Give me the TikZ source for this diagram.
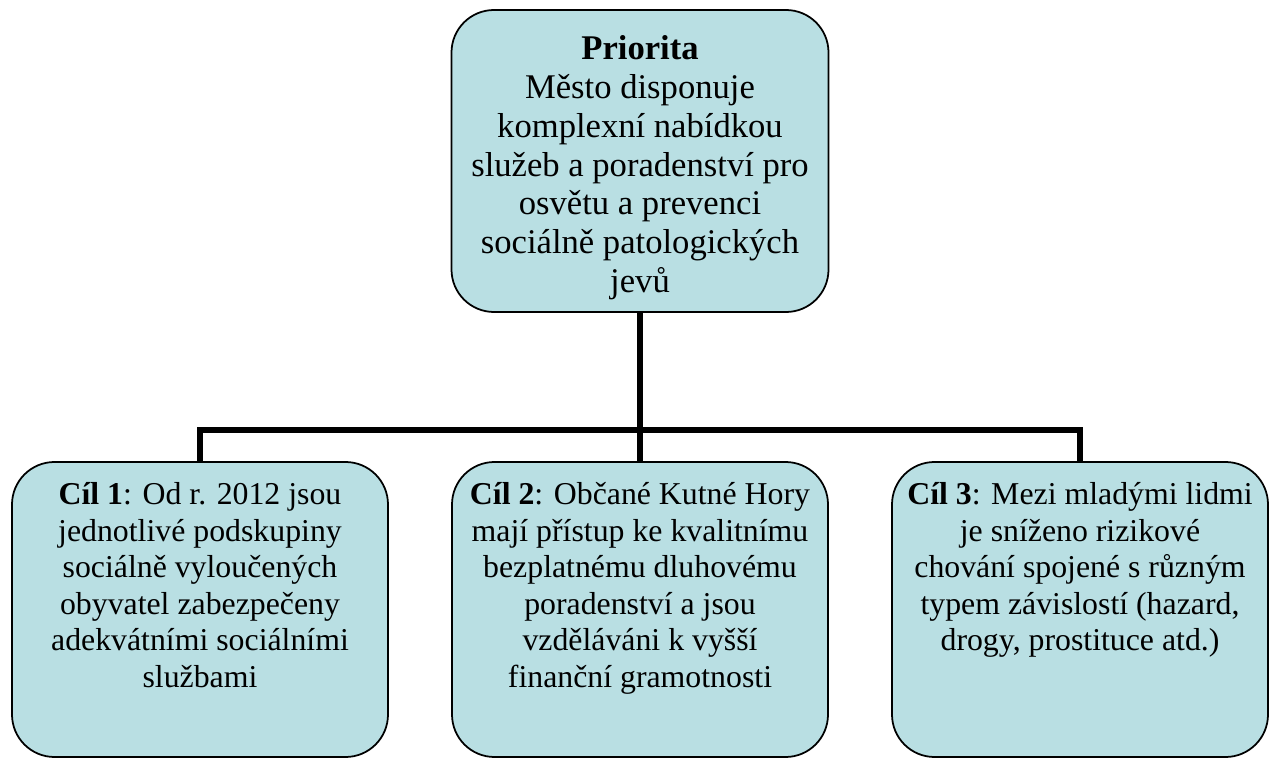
\documentclass[tikz,border=0pt]{standalone}
\usepackage{fontspec}
\setmainfont{Liberation Serif}
\usetikzlibrary{positioning}
\definecolor{boxblue}{RGB}{185,223,227}
\begin{document}
\begin{tikzpicture}[box/.style={draw=black, line width=1pt, fill=boxblue, rounded corners=0.85cm},
                prio/.style={box, minimum width=7.54cm, minimum height=6.04cm},
                goal/.style={box, minimum width=7.52cm, minimum height=5.9cm},
                priotext/.style={align=center, inner sep=0pt, font=\fontsize{19.7}{22.1}\selectfont},
                goaltext/.style={align=center, inner sep=0pt, font=\fontsize{18.1}{20.8}\selectfont},
                link/.style={line width=3.4pt}]
                \useasboundingbox (0,0) rectangle (25.4,-15.16);
                \node[prio] (prio) at (12.8,-3.22) {};
                \node[goal] (g1) at (4.0,-12.19) {};
                \node[goal] (g2) at (12.8,-12.19) {};
                \node[goal] (g3) at (21.6,-12.19) {};
                \node[priotext, below=0.52cm of prio.north] (priot) {\textbf{Priorita}\\Město disponuje\\komplexní nabídkou\\služeb a poradenství pro\\osvětu a prevenci\\sociálně patologických\\jevů};
                \node[goaltext, below=0.42cm of g1.north] (g1t) {\textbf{Cíl 1}: Od r. 2012 jsou\\jednotlivé podskupiny\\sociálně vyloučených\\obyvatel zabezpečeny\\adekvátními sociálními\\službami};
                \node[goaltext, below=0.42cm of g2.north] (g2t) {\textbf{Cíl 2}: Občané Kutné Hory\\mají přístup ke kvalitnímu\\bezplatnému dluhovému\\poradenství a jsou\\vzděláváni k vyšší\\finanční gramotnosti};
                \node[goaltext, below=0.42cm of g3.north] (g3t) {\textbf{Cíl 3}: Mezi mladými lidmi\\je sníženo rizikové\\chování spojené s různým\\typem závislostí (hazard,\\drogy, prostituce atd.)};
                \coordinate (bar) at (prio.south |- 0,-8.6);
                \draw[link] (prio.south) -- (bar);
                \draw[link] (g1.north) |- (bar) -| (g3.north);
                \draw[link] (bar) -- (g2.north);
            \end{tikzpicture}
\end{document}
